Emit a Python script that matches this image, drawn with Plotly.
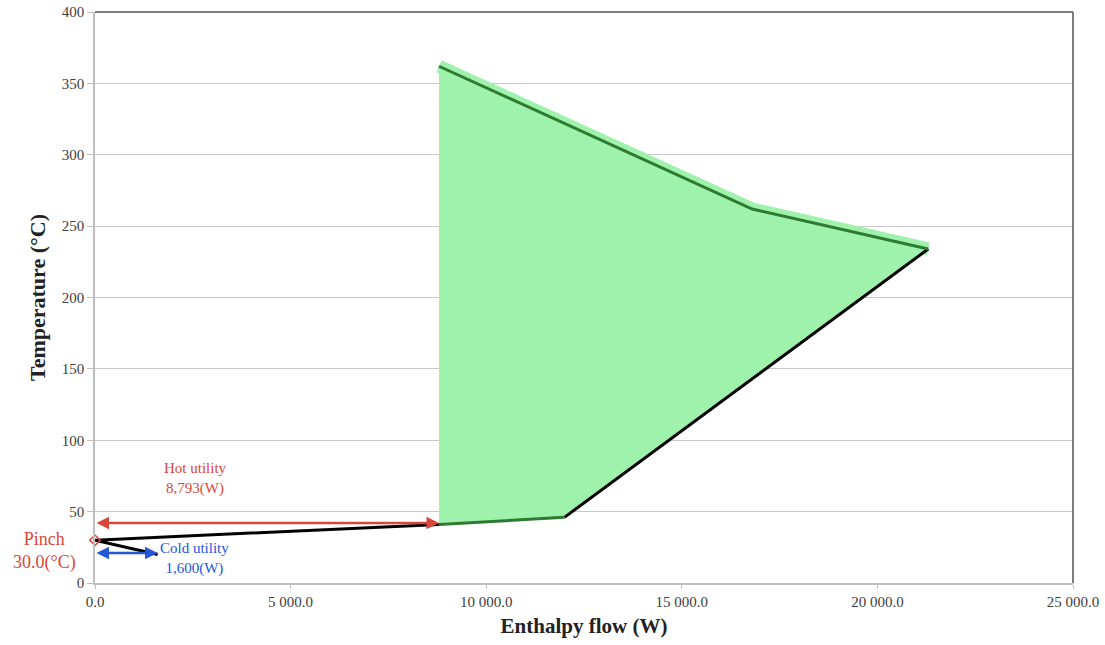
import plotly.graph_objects as go

# Grand composite curve data (enthalpy flow W, temperature °C)
H_black1 = [1600, 0, 8793]
T_black1 = [20, 30, 41]
H_green1 = [8793, 12000]
T_green1 = [41, 46]
H_black2 = [12000, 21300]
T_black2 = [46, 234]
H_green2 = [21300, 16800, 8793]
T_green2 = [234, 262, 362]

hot_utility = 8793
cold_utility = 1600
pinch_T = 30.0
hot_T = 42
cold_T = 21

x_tickvals = [0, 5000, 10000, 15000, 20000, 25000]
x_ticktext = ["0.0", "5 000.0", "10 000.0", "15 000.0", "20 000.0", "25 000.0"]
y_tickvals = [0, 50, 100, 150, 200, 250, 300, 350, 400]

SERIF = "Liberation Serif"
RED = "#d9473a"
BLUE = "#2456d6"

fig = go.Figure()

# green fill region between the curve and the hot-utility line
fill_H = H_green1 + H_black2[1:] + H_green2[1:] + [H_green1[0]]
fill_T = T_green1 + T_black2[1:] + T_green2[1:] + [T_green1[0]]
fig.add_trace(go.Scatter(x=fill_H, y=fill_T, fill="toself", mode="none",
                         fillcolor="rgb(158,242,172)", hoverinfo="skip", showlegend=False))
# soft light-green halo above the upper curve
fig.add_trace(go.Scatter(x=H_green2, y=T_green2, mode="lines",
                         line=dict(color="rgb(158,242,172)", width=13), hoverinfo="skip",
                         showlegend=False))

fig.add_trace(go.Scatter(x=H_black1, y=T_black1, mode="lines",
                         line=dict(color="black", width=3), showlegend=False))
fig.add_trace(go.Scatter(x=H_black2, y=T_black2, mode="lines",
                         line=dict(color="black", width=3), showlegend=False))
fig.add_trace(go.Scatter(x=H_green1, y=T_green1, mode="lines",
                         line=dict(color="#2e7a31", width=3), showlegend=False))
fig.add_trace(go.Scatter(x=H_green2, y=T_green2, mode="lines",
                         line=dict(color="#2e7a31", width=3), showlegend=False))

# pinch marker
fig.add_trace(go.Scatter(x=[0], y=[pinch_T], mode="markers", cliponaxis=False,
                         marker=dict(symbol="diamond-open", size=8, color=RED, line=dict(width=1.5)),
                         showlegend=False))

# utility arrows
fig.add_annotation(x=hot_utility, y=hot_T, ax=0, ay=hot_T, xref="x", yref="y",
                   axref="x", ayref="y", showarrow=True, arrowhead=2, arrowside="end+start",
                   arrowsize=1, arrowwidth=2.5, arrowcolor=RED, text="")
fig.add_annotation(x=cold_utility, y=cold_T, ax=0, ay=cold_T, xref="x", yref="y",
                   axref="x", ayref="y", showarrow=True, arrowhead=2, arrowside="end+start",
                   arrowsize=1, arrowwidth=2.5, arrowcolor=BLUE, text="")

fig.add_annotation(x=2560, y=73, xref="x", yref="y", showarrow=False,
                   text=f"Hot utility<br>{hot_utility:,}(W)",
                   font=dict(family=SERIF, size=15, color=RED))
fig.add_annotation(x=2550, y=17, xref="x", yref="y", showarrow=False,
                   text=f"Cold utility<br>{cold_utility:,}(W)",
                   font=dict(family=SERIF, size=15, color=BLUE))
fig.add_annotation(x=-0.0516, y=22.4, xref="paper", yref="y", showarrow=False,
                   xanchor="center", yanchor="middle",
                   text=f"Pinch<br>{pinch_T:.1f}(°C)",
                   font=dict(family=SERIF, size=18, color=RED))

# darker top/right frame
fig.add_shape(type="line", xref="paper", yref="paper", x0=0, x1=1, y0=1, y1=1,
              line=dict(color="#555555", width=1.5))
fig.add_shape(type="line", xref="paper", yref="paper", x0=1, x1=1, y0=0, y1=1,
              line=dict(color="#555555", width=1.5))

fig.update_layout(
    width=1105, height=645,
    margin=dict(l=95, r=32, t=12, b=62),
    plot_bgcolor="white", paper_bgcolor="white",
    font=dict(family=SERIF, color="#404040"),
    xaxis=dict(range=[0, 25000], tickvals=x_tickvals, ticktext=x_ticktext, automargin=False,
               ticklabeloverflow="allow",
               showgrid=False, zeroline=False, showline=True, linecolor="#bfbfbf", linewidth=1.5,
               ticks="outside", ticklen=4, tickcolor="#bfbfbf",
               tickfont=dict(family=SERIF, size=15, color="#404040"),
               title=dict(text="<b>Enthalpy flow (W)</b>", font=dict(family=SERIF, size=21, color="#222222"), standoff=10)),
    yaxis=dict(range=[0, 400], tickvals=y_tickvals, automargin=False,
               ticklabeloverflow="allow",
               showgrid=True, gridcolor="#c8c8c8", gridwidth=1, zeroline=False,
               showline=True, linecolor="#bfbfbf", linewidth=1.5,
               ticks="outside", ticklen=6, tickcolor="#bfbfbf",
               tickfont=dict(family=SERIF, size=15, color="#404040"),
               title=dict(text="<b>Temperature (°C)</b>", font=dict(family=SERIF, size=22, color="#222222"), standoff=10)),
)

fig.write_html("out.html", config={"displayModeBar": False},
               post_script="document.body.style.margin='0px';document.body.style.overflow='hidden';")
